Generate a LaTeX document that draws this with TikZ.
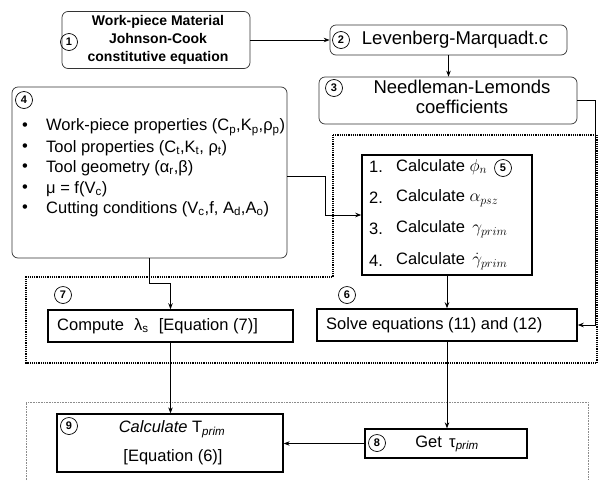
\documentclass[tikz,border=0pt]{standalone}
\usepackage{fontspec}
\setmainfont{Liberation Sans}
\usetikzlibrary{arrows.meta,calc}
\newcommand\sbs[1]{\textsubscript{#1}}
\newcommand\isbs[1]{\textsubscript{\itshape #1}}
\begin{document}
\begin{tikzpicture}[x=1pt,y=-1pt,
  rbox/.style={draw=black!80, line width=0.7pt, rounded corners=6pt, inner sep=0pt},
  sbox/.style={draw, line width=1.5pt, inner sep=0pt},
  circ/.style={draw, circle, line width=0.7pt, inner sep=0pt, minimum size=17pt, font=\fontsize{11}{11}\selectfont\bfseries},
  conn/.style={line width=0.9pt, -{Stealth[length=6pt,width=4.5pt]}},
  txt/.style={inner sep=0pt, font=\fontsize{16.5}{20}\selectfont},
  bigtxt/.style={inner sep=0pt, font=\fontsize{18.5}{20}\selectfont},
  region/.style={line width=1.2pt, densely dotted},
  faint/.style={line width=0.6pt, densely dotted, black!45}]
\fill[white] (0,0) rectangle (599,480);
\useasboundingbox (0,0) rectangle (599,480);

% regions
\draw[region] (333,135) -- (597,135) -- (597,363) -- (26,363) -- (26,277) -- (333,277) -- cycle;
\draw[faint] (26,480) -- (26,402) -- (588,402) -- (588,480);

% box 1
\node[rbox, minimum width=188pt, minimum height=57pt, align=center,
  font=\fontsize{14}{18}\selectfont\bfseries] (b1) at (156,40)
  {\hspace*{4pt}Work-piece Material\\\hspace*{4pt}Johnson-Cook\\\hspace*{4pt}constitutive equation};
\node[circ] (c1) at (69,42) {1};

% box 2
\node[rbox, minimum width=237pt, minimum height=30pt] (b2) at (448.5,40) {};
\node[circ] (c2) at (341,40) {2};
\node[bigtxt] (t2) at (455,40) {Levenberg-Marquadt.c};

% box 3
\node[rbox, minimum width=258pt, minimum height=47pt] (b3) at (448,100.5) {};
\node[circ] (c3) at (334,88) {3};
\node[bigtxt, align=center] (t3) at (462,97) {Needleman-Lemonds\\coefficients};

% box 4
\node[rbox, minimum width=275pt, minimum height=171pt] (b4) at (149.5,172.5) {};
\node[circ] (c4) at (24,100) {4};
\foreach \y/\t [count=\i] in {
  127/{Work-piece properties (C\sbs{p},K\sbs{p},ρ\sbs{p})},
  148/{Tool properties (C\sbs{t},K\sbs{t}, ρ\sbs{t})},
  168/{Tool geometry (α\sbs{r},β)},
  189/{μ = f(V\sbs{c})},
  209/{Cutting conditions (V\sbs{c},f, A\sbs{d},A\sbs{o})}} {
  \node[txt] (bul\i) at (25,\y) {•};
  \node[txt, anchor=west] (it\i) at (46,\y) {\t};
}

% box 5
\node[sbox, minimum width=170pt, minimum height=120pt] (b5) at (447,215) {};
\node[circ] (c5) at (503,168) {5};
\foreach \y/\n/\t [count=\i] in {
  167/1./{Calculate $\phi_n$},
  198/2./{Calculate $\alpha_{psz}$},
  229/3./{Calculate\, $\gamma_{prim}$},
  261/4./{Calculate\, $\dot{\gamma}_{prim}$}} {
  \node[txt, anchor=west] (n\i) at (369,\y) {\n};
  \node[txt, anchor=west] (s\i) at (396,\y) {\t};
}

% compute / solve
\node[sbox, minimum width=245pt, minimum height=32pt] (comp) at (170.5,326) {};
\node[txt, anchor=west] (tcomp) at (57,326) {Compute\,\, λ\sbs{s}\,\, [Equation (7)]};
\node[circ] (c7) at (63,295) {7};
\node[sbox, minimum width=260pt, minimum height=32pt] (solve) at (447,325) {};
\node[txt, anchor=west] (tsolve) at (326,325) {Solve equations (11) and (12)};
\node[circ] (c6) at (347,295) {6};

% box 9 and box 8
\node[sbox, line width=1.3pt, minimum width=226pt, minimum height=58pt] (b9) at (170,443) {};
\node[circ] (c9) at (69,426) {9};
\node[txt] (t9a) at (172,429) {\itshape Calculate \upshape T\isbs{prim}};
\node[txt] (t9b) at (173,457) {[Equation (6)]};
\node[sbox, line width=1.3pt, minimum width=162pt, minimum height=29pt] (b8) at (446,443.5) {};
\node[circ] (c8) at (377,443) {8};
\node[txt] (t8) at (447,444) {Get\, τ\isbs{prim}};

% connectors
\draw[conn] (b1.east) -- (b2.west);
\draw[conn] (b2.south) -- (b2.south |- b3.north);
\draw[conn] (b3.east) -- ++(18,0) |- (solve.east);
\draw[conn] ([yshift=-3.5pt]b4.east) -- ++(38,0) |- (b5.west);
\draw[conn] (b4.south) -- ++(0,25) -| (comp.north);
\draw[conn] (b5.south) -- (solve.north);
\draw[conn] (comp.south) -- (comp.south |- b9.north);
\draw[conn] (solve.south) -- (solve.south |- b8.north);
\draw[conn] (b8.west) -- (b8.west -| b9.east);
\end{tikzpicture}
\end{document}
